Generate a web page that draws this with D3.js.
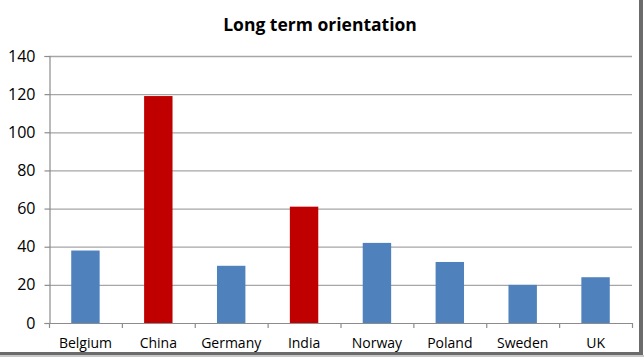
<!DOCTYPE html>
<html>
<head>
<meta charset="utf-8">
<script src="https://cdn.jsdelivr.net/npm/d3@7"></script>
<style>
  html, body { margin: 0; padding: 0; background: #fff; }
  svg { display: block; }
</style>
</head>
<body>
<svg id="chart" width="644" height="357"></svg>
<script>
const categories = ["Belgium", "China", "Germany", "India", "Norway", "Poland", "Sweden", "UK"];
const values = [38, 119, 30, 61, 42, 32, 20, 24];
const highlight = ["China", "India"];
const yTicks = [0, 20, 40, 60, 80, 100, 120, 140];
const title = "Long term orientation";

const svg = d3.select("#chart");
const m = { left: 49, top: 56 };
const plotRight = 632, plotBottom = 323;

// frame shadow
svg.append("rect").attr("x", 639).attr("y", 0).attr("width", 4).attr("height", 355).attr("fill", "#6b6b6b");
svg.append("rect").attr("x", 0).attr("y", 352).attr("width", 643).attr("height", 3).attr("fill", "#6b6b6b");
svg.append("rect").attr("x", 0).attr("y", 355).attr("width", 644).attr("height", 2).attr("fill", "#c8c8c8");

const x = d3.scaleBand().domain(categories).range([m.left, plotRight]).paddingInner(0.61).paddingOuter(0.305);
const y = d3.scaleLinear().domain([0, 140]).range([plotBottom, m.top]);

// gridlines
svg.append("g").selectAll("line").data(yTicks.filter(d => d > 0)).join("line")
  .attr("x1", m.left).attr("x2", plotRight)
  .attr("y1", d => y(d) + 0.5).attr("y2", d => y(d) + 0.5)
  .attr("stroke", "#a6a6a6").attr("stroke-width", 1.3);

// bars
svg.append("g").selectAll("rect").data(categories).join("rect")
  .attr("x", d => x(d))
  .attr("y", (d, i) => y(values[i]))
  .attr("width", x.bandwidth())
  .attr("height", (d, i) => plotBottom - y(values[i]))
  .attr("fill", d => highlight.includes(d) ? "#c00000" : "#4f81bd");

// y axis
const yAxis = svg.append("g").attr("transform", `translate(${m.left + 0.5},0)`)
  .call(d3.axisLeft(y).tickValues(yTicks).tickSize(5).tickPadding(9).tickFormat(d3.format("d")));
yAxis.select(".domain").attr("stroke", "#8c8c8c").attr("stroke-width", 1.2);
yAxis.selectAll(".tick line").attr("stroke", "#8c8c8c").attr("stroke-width", 1.2);
yAxis.selectAll("text").attr("font-family", "'Open Sans', 'Liberation Sans', sans-serif")
  .attr("font-size", 16).attr("fill", "#000");

// x axis
const boundaries = categories.map(c => x(c) - x.step() * x.paddingInner() / 2).concat([plotRight]);
const xg = svg.append("g");
xg.append("line").attr("x1", m.left).attr("x2", plotRight)
  .attr("y1", plotBottom + 0.5).attr("y2", plotBottom + 0.5)
  .attr("stroke", "#8c8c8c").attr("stroke-width", 1.2);
xg.selectAll("line.tk").data(boundaries).join("line").attr("class", "tk")
  .attr("x1", d => d + 0.5).attr("x2", d => d + 0.5)
  .attr("y1", plotBottom).attr("y2", plotBottom + 5)
  .attr("stroke", "#8c8c8c").attr("stroke-width", 1.2);
xg.selectAll("text").data(categories).join("text")
  .attr("x", d => x(d) + x.bandwidth() / 2)
  .attr("y", 348)
  .attr("text-anchor", "middle")
  .attr("font-family", "'Open Sans', 'Liberation Sans', sans-serif")
  .attr("font-size", 14)
  .attr("fill", "#000")
  .text(d => d);

// title
svg.append("text").attr("x", 320).attr("y", 31).attr("text-anchor", "middle")
  .attr("font-family", "'Open Sans', 'Liberation Sans', sans-serif")
  .attr("font-weight", "bold").attr("font-size", 17.5).attr("fill", "#000")
  .text(title);
</script>
</body>
</html>
